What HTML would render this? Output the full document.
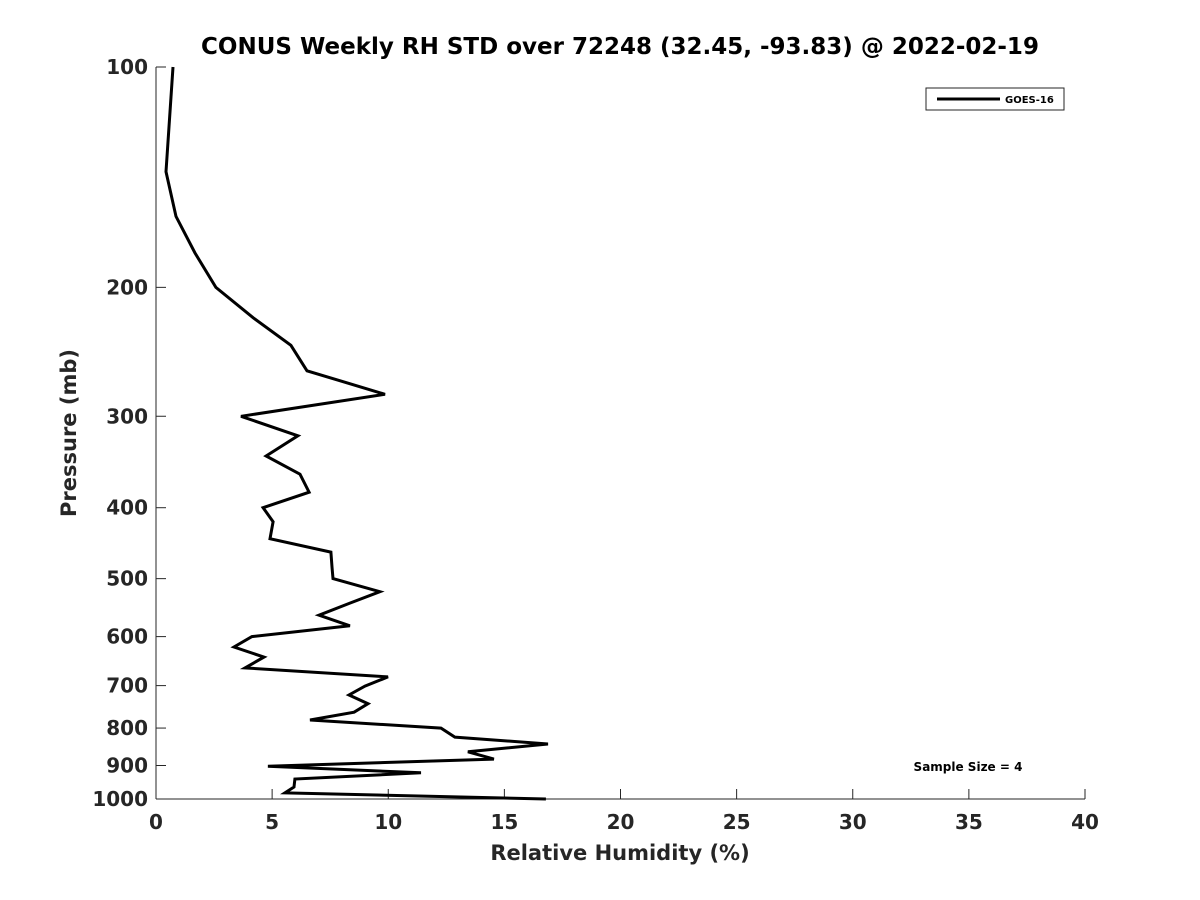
<!DOCTYPE html>
<html><head><meta charset="utf-8"><style>body{margin:0;background:#fff}svg{display:block;font-family:"DejaVu Sans","Liberation Sans",sans-serif}</style></head>
<body>
<svg id="c" width="1200" height="900"></svg>
<script>
const rhValues=[0.73,0.43,0.86,1.68,2.58,4.18,5.81,6.50,9.86,3.66,6.11,4.74,6.20,6.59,4.61,5.04,4.91,7.53,7.58,7.62,9.64,8.35,7.02,8.35,4.13,3.36,4.65,3.83,9.99,9.0,8.31,9.13,8.53,6.63,12.27,12.87,16.88,13.43,14.55,4.82,11.41,5.98,5.94,5.55,16.79];
const pressures=[100,139,160,179.5,200,220,240,260,280,300,319,340,360,381,400,418,441,460,482,500,521,540,561,580,600,620,640,662,681,701,721,741,761,780,800,823,841,862,882,902,921,939,963,981,1000];
const xTicks=[0,5,10,15,20,25,30,35,40];
const yTicks=[100,200,300,400,500,600,700,800,900,1000];
const NS="http://www.w3.org/2000/svg",svg=document.getElementById('c');
const X0=156,X1=1085,Y0=67,Y1=799;
const xs=v=>X0+(v/40)*(X1-X0);
const ys=p=>Y0+(Math.log10(p)-2)*(Y1-Y0);
function mk(t,a,txt){const e=document.createElementNS(NS,t);for(const k in a)e.setAttribute(k,a[k]);if(txt!=null)e.textContent=txt;svg.appendChild(e);return e;}
let e;
e=mk('line',{x1:X0,y1:Y0,x2:X0,y2:Y1,stroke:'#262626','stroke-width':1});

e=mk('line',{x1:X0,y1:Y1,x2:X1,y2:Y1,stroke:'#262626','stroke-width':1});

xTicks.forEach(v=>{const x=xs(v);
 e=mk('line',{x1:x,y1:Y1,x2:x,y2:Y1-10,stroke:'#262626'});
 e=mk('text',{x:x,y:Y1+30,'text-anchor':'middle','font-size':20,'font-weight':'bold',fill:'#262626'},v);});
yTicks.forEach(p=>{const y=ys(p);
 e=mk('line',{x1:X0,y1:y,x2:X0+10,y2:y,stroke:'#262626'});
 e=mk('text',{x:X0-8,y:y+7,'text-anchor':'end','font-size':20,'font-weight':'bold',fill:'#262626'},p);});
const pts=rhValues.map((v,i)=>xs(v).toFixed(1)+','+ys(pressures[i]).toFixed(1)).join(' ');
e=mk('polyline',{points:pts,fill:'none',stroke:'#000','stroke-width':3,'stroke-linejoin':'miter'});

e=mk('text',{x:620,y:54,'text-anchor':'middle','font-size':23,'font-weight':'bold',fill:'#000'},'CONUS Weekly RH STD over 72248 (32.45, -93.83) @ 2022-02-19');

e=mk('text',{x:620,y:860,'text-anchor':'middle','font-size':21,'font-weight':'bold',fill:'#262626'},'Relative Humidity (%)');

e=mk('text',{x:76,y:433,'text-anchor':'middle','font-size':21,'font-weight':'bold',fill:'#262626',transform:'rotate(-90 76 433)'},'Pressure (mb)');

e=mk('rect',{x:926,y:88,width:138,height:22,fill:'#fff',stroke:'#262626','stroke-width':1});

e=mk('line',{x1:937,y1:99,x2:1000,y2:99,stroke:'#000','stroke-width':3});

e=mk('text',{x:1005,y:103,'font-size':10,'font-weight':'bold',fill:'#000'},'GOES-16');

e=mk('text',{x:968,y:771,'text-anchor':'middle','font-size':12,'font-weight':'bold',fill:'#000'},'Sample Size = 4');

</script>
</body></html>
